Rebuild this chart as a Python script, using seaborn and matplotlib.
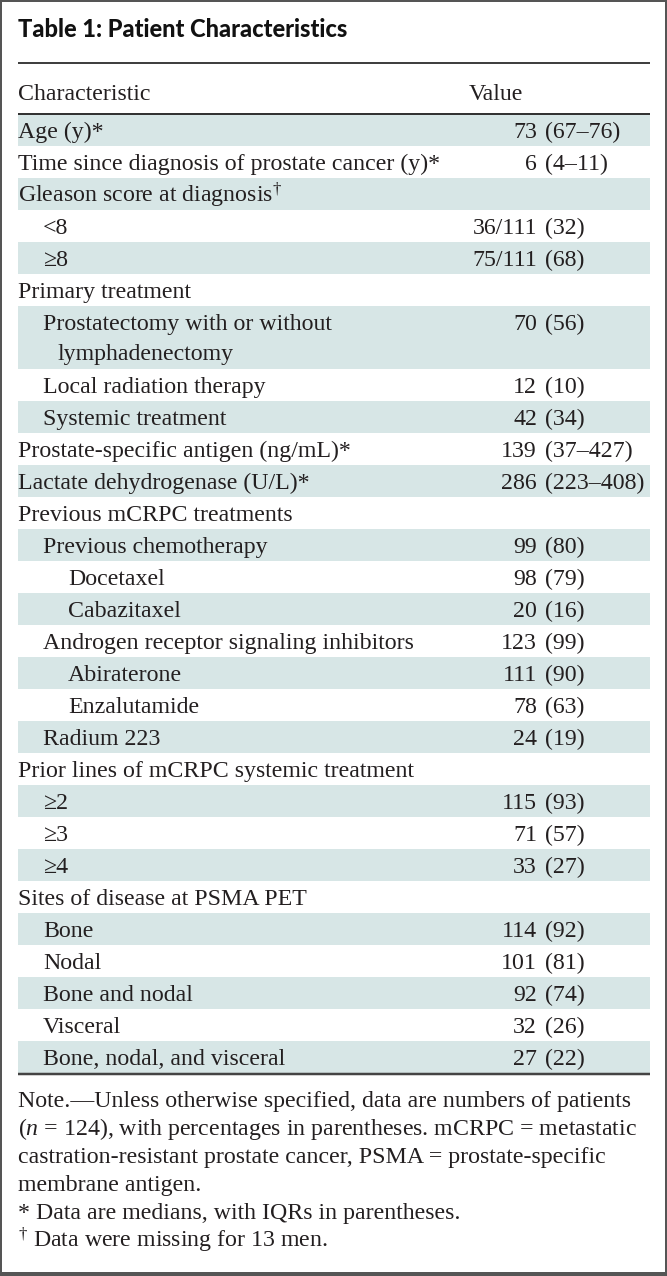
import matplotlib
matplotlib.use("Agg")
import matplotlib.pyplot as plt
import seaborn as sns
import pandas as pd

# ---------------- data ----------------
title = "Table 1: Patient Characteristics"
col_headers = ["Characteristic", "Value"]

labels = [
    "Age (y)*",
    "Time since diagnosis of prostate cancer (y)*",
    r"Gleason score at diagnosis$^{\dagger}$",
    "<8",
    "≥8",
    "Primary treatment",
    "Prostatectomy with or without\nlymphadenectomy",
    "Local radiation therapy",
    "Systemic treatment",
    "Prostate-specific antigen (ng/mL)*",
    "Lactate dehydrogenase (U/L)*",
    "Previous mCRPC treatments",
    "Previous chemotherapy",
    "Docetaxel",
    "Cabazitaxel",
    "Androgen receptor signaling inhibitors",
    "Abiraterone",
    "Enzalutamide",
    "Radium 223",
    "Prior lines of mCRPC systemic treatment",
    "≥2",
    "≥3",
    "≥4",
    "Sites of disease at PSMA PET",
    "Bone",
    "Nodal",
    "Bone and nodal",
    "Visceral",
    "Bone, nodal, and visceral",
]
levels = [0, 0, 0, 1, 1, 0, 1, 1, 1, 0, 0, 0, 1, 2, 2, 1, 2, 2, 1, 0, 1, 1, 1, 0, 1, 1, 1, 1, 1]
values_main = ["73", "6", "", "36/111", "75/111", "", "70", "12", "42", "139", "286", "",
               "99", "98", "20", "123", "111", "78", "24", "", "115", "71", "33", "",
               "114", "101", "92", "32", "27"]
values_paren = ["(67–76)", "(4–11)", "", "(32)", "(68)", "", "(56)", "(10)", "(34)",
                "(37–427)", "(223–408)", "", "(80)", "(79)", "(16)", "(99)", "(90)", "(63)",
                "(19)", "", "(93)", "(57)", "(27)", "", "(92)", "(81)", "(74)", "(26)", "(22)"]

notes = [
    "Note.—Unless otherwise specified, data are numbers of patients",
    r"($\mathit{n}$ = 124), with percentages in parentheses. mCRPC = metastatic",
    "castration-resistant prostate cancer, PSMA = prostate-specific",
    "membrane antigen.",
    "* Data are medians, with IQRs in parentheses.",
    r"$^{\dagger}$ Data were missing for 13 men.",
]

# ---------------- style ----------------
sns.set_theme(style="white")
plt.rcParams["font.family"] = ["Liberation Serif", "DejaVu Serif"]
plt.rcParams["mathtext.fontset"] = "custom"
plt.rcParams["mathtext.rm"] = "Liberation Serif"
plt.rcParams["mathtext.it"] = "Liberation Serif:italic"
plt.rcParams["mathtext.bf"] = "Liberation Serif:bold"

W, H = 667, 1276
fig = plt.figure(figsize=(W / 100, H / 100), dpi=100)
ax = fig.add_axes([0, 0, 1, 1])
ax.set_xlim(0, W)
ax.set_ylim(H, 0)
ax.axis("off")

TXT = "#231f20"
SHADE = "#d7e6e6"
FS = 17.2
PX = 0.72  # points per pixel

left = 18
right = 650
indent = {0: 18, 1: 43, 2: 68}
hang = 14
num_right = 537
paren_left = 545

# layout
row_h = 32
line_gap = 30
top = 114
rows = pd.DataFrame({"label": labels, "level": levels, "main": values_main, "paren": values_paren})
rows["nlines"] = rows["label"].str.count("\n") + 1
rows["height"] = rows["nlines"].map(lambda n: row_h if n == 1 else 2 * row_h - 1)
rows["top"] = top + rows["height"].cumsum() - rows["height"]
rows["shaded"] = [i % 2 == 0 for i in range(len(rows))]

shaded = rows[rows["shaded"]]
ax.barh(shaded["top"] + shaded["height"] / 2, width=right - left, left=left,
        height=shaded["height"], color=SHADE, edgecolor="none", zorder=0)

for _, r in rows.iterrows():
    parts = r["label"].split("\n")
    base = r["top"] + 24
    for j, p in enumerate(parts):
        x = indent[r["level"]] + (hang if j > 0 else 0)
        ax.text(x, base + j * line_gap, p, fontsize=FS, color=TXT, va="baseline", ha="left")
    if r["main"]:
        ax.text(num_right, base, r["main"], fontsize=FS, color=TXT, va="baseline", ha="right")
        ax.text(paren_left, base, r["paren"], fontsize=FS, color=TXT, va="baseline", ha="left")

# title & headers
ax.text(left, 37, title, fontsize=17, fontweight="black", family=["Lato", "DejaVu Sans"],
        color="#111111", va="baseline", ha="left")
ax.text(left, 100, col_headers[0], fontsize=FS, color=TXT, va="baseline", ha="left")
ax.text(469, 100, col_headers[1], fontsize=FS, color=TXT, va="baseline", ha="left")

# rules
ax.plot([left, right], [63, 63], color="#111111", lw=1.6 * PX, solid_capstyle="butt")
ax.plot([left, right], [114, 114], color="#333333", lw=2.0 * PX, solid_capstyle="butt")
bottom = rows["top"].iloc[-1] + rows["height"].iloc[-1]
ax.plot([left, right], [bottom + 1, bottom + 1], color="#444444", lw=2.5 * PX, solid_capstyle="butt")

# notes
for k, line in enumerate(notes):
    ax.text(left, 1107 + 28 * k, line, fontsize=FS, color=TXT, va="baseline", ha="left")

# outer border
bc = "#555555"
ax.plot([1, 1], [0, H], color=bc, lw=2 * PX)
ax.plot([666, 666], [0, H], color=bc, lw=2 * PX)
ax.plot([0, W], [1, 1], color=bc, lw=2 * PX)
ax.plot([0, W], [1274, 1274], color=bc, lw=4 * PX)

fig.savefig("out.png", dpi=100)
